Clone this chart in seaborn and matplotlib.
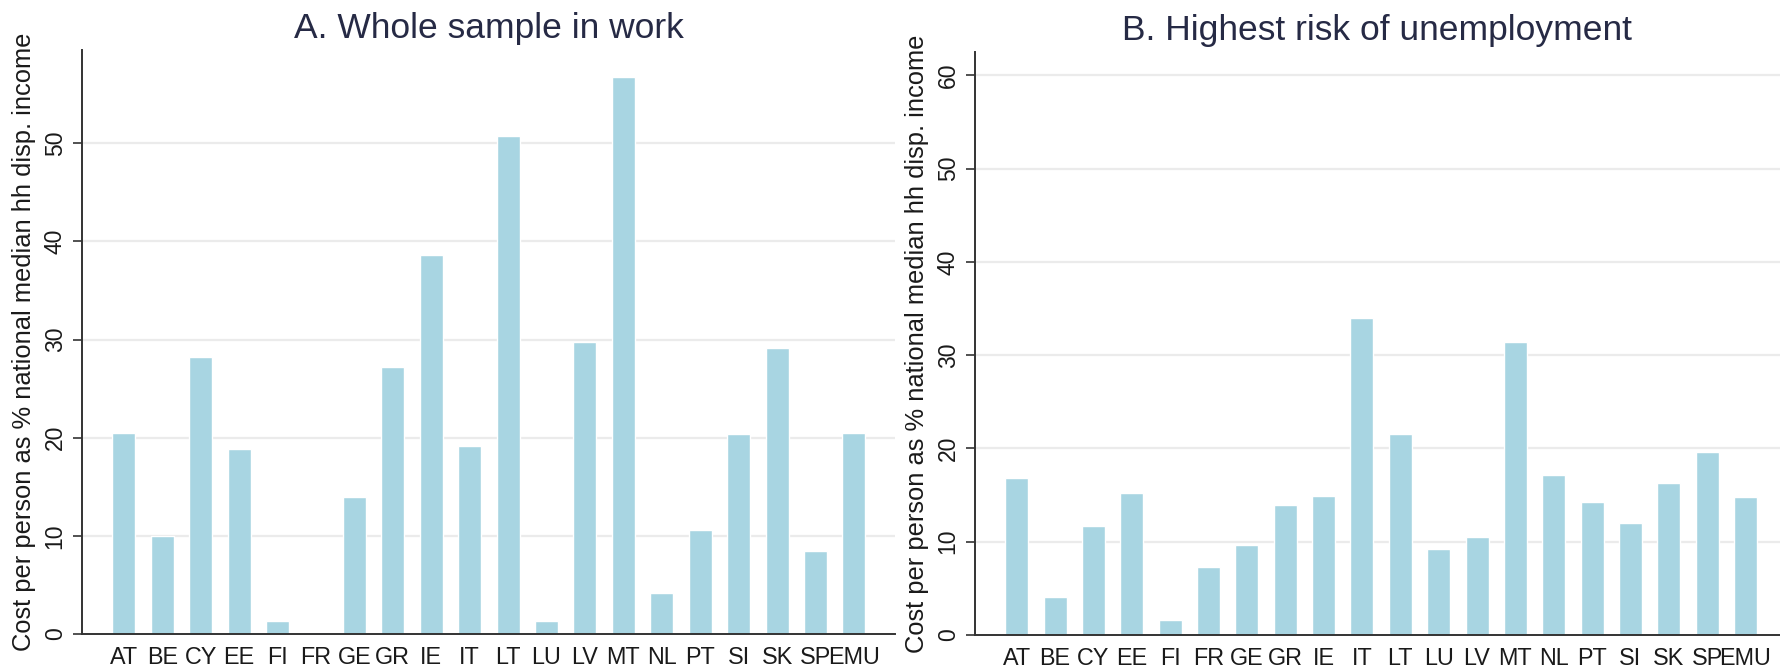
import matplotlib
matplotlib.use("Agg")
import matplotlib.pyplot as plt
import pandas as pd
import seaborn as sns

countries = ["AT", "BE", "CY", "EE", "FI", "FR", "GE", "GR", "IE", "IT",
             "LT", "LU", "LV", "MT", "NL", "PT", "SI", "SK", "SP", "EMU"]
whole_sample = [20.5, 10.0, 28.2, 18.8, 1.3, 0.2, 14.0, 27.2, 38.6, 19.2,
                50.7, 1.3, 29.7, 56.8, 4.2, 10.6, 20.4, 29.1, 8.5, 20.5]
highest_risk = [16.8, 4.1, 11.7, 15.2, 1.6, 7.3, 9.7, 13.9, 14.9, 34.0,
                21.5, 9.2, 10.5, 31.4, 17.1, 14.3, 12.0, 16.3, 19.6, 14.8]
titles = ["A. Whole sample in work", "B. Highest risk of unemployment"]
ylabel = "Cost per person as % national median hh disp. income"

sns.set_theme(style="white")
plt.rcParams["font.family"] = ["Liberation Sans", "DejaVu Sans"]

bar_color = "#a8d5e2"
axis_color = "#333333"
title_color = "#262a45"
grid_color = "#ebebeb"
text_color = "#1a1a1a"

fig = plt.figure(figsize=(17.8, 6.67), dpi=100)
ax_a = fig.add_axes([82 / 1780, 1 - 634 / 667, 813 / 1780, 584 / 667])
ax_b = fig.add_axes([975 / 1780, 1 - 635 / 667, 805 / 1780, 583 / 667])

panels = [
    (ax_a, whole_sample, titles[0], 59.5, range(0, 60, 10), 20.07, 813),
    (ax_b, highest_risk, titles[1], 62.5, range(0, 70, 10), 19.9, 805),
]

for ax, values, title, ytop, yticks, xright, width_px in panels:
    df = pd.DataFrame({"country": countries, "cost": values})
    sns.barplot(data=df, x="country", y="cost", ax=ax, color=bar_color,
                saturation=1, width=0.6, zorder=2)
    ax.set_xlim(-1.09, xright)
    ax.set_ylim(0, ytop)
    ax.set_yticks(list(yticks))
    for t in yticks:
        if t > 0:
            ax.axhline(t, color=grid_color, linewidth=1.6, zorder=0)

    for side in ["top", "right"]:
        ax.spines[side].set_visible(False)
    for side in ["left", "bottom"]:
        ax.spines[side].set_color(axis_color)
        ax.spines[side].set_linewidth(1.4)

    ax.tick_params(axis="y", direction="out", length=6.5, width=1.2,
                   color=axis_color, labelsize=16.5, labelcolor=text_color,
                   pad=4.5, left=True)
    for lab in ax.get_yticklabels():
        lab.set_rotation(90)
        lab.set_va("center")
    ax.tick_params(axis="x", length=0, pad=8.5)
    for lab in ax.get_xticklabels():
        lab.set_family(["Liberation Sans Narrow", "Liberation Sans", "DejaVu Sans"])
        lab.set_fontsize(16.8)
        lab.set_color(text_color)

    ax.set_xlabel("")
    ax.set_ylabel(ylabel, fontsize=18.4, color=text_color)
    ax.yaxis.set_label_coords(-46 / width_px, 0.5)
    ax.set_title(title, fontsize=25.5, color=title_color, pad=8.6)

fig.savefig("out.png", dpi=100, facecolor="white")
